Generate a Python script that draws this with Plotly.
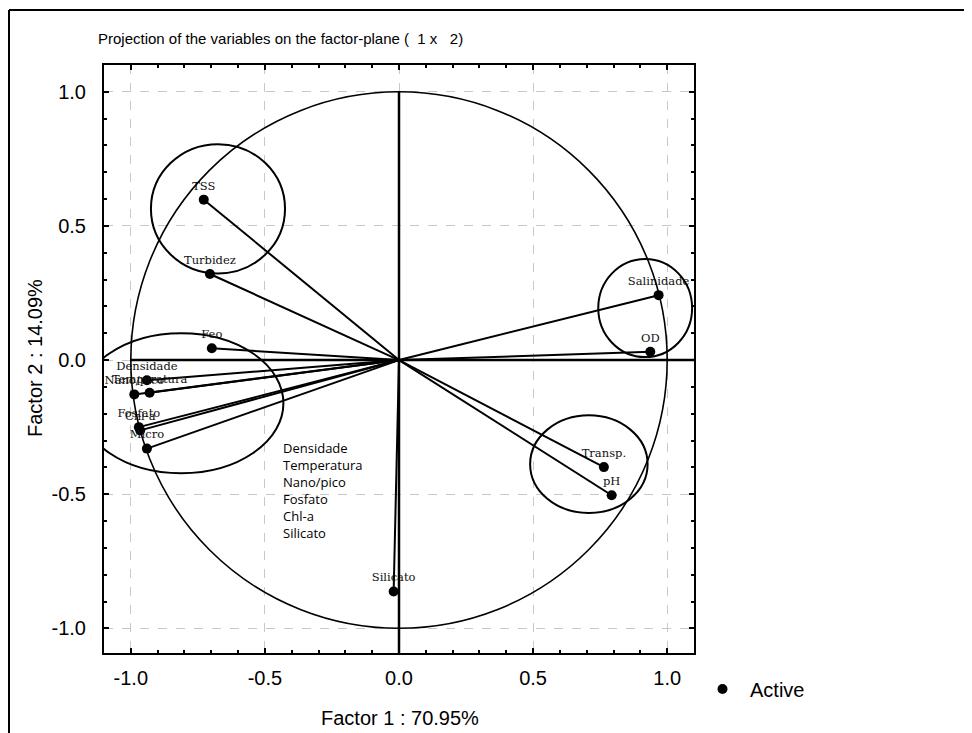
import plotly.graph_objects as go

# ---- data ----
variables = ["TSS", "Turbidez", "Feo", "Densidade", "Temperatura", "Nano/pico",
             "Fosfato", "Chl-a", "Micro", "Silicato", "Salinidade", "OD",
             "Transp.", "pH"]
factor1 = [-0.728, -0.705, -0.698, -0.940, -0.930, -0.987,
           -0.970, -0.965, -0.940, -0.020, 0.968, 0.937,
           0.764, 0.793]
factor2 = [0.598, 0.321, 0.044, -0.075, -0.122, -0.128,
           -0.250, -0.262, -0.330, -0.863, 0.242, 0.031,
           -0.399, -0.504]
tick_vals = [-1.0, -0.5, 0.0, 0.5, 1.0]
tick_text = ["-1.0", "-0.5", "0.0", "0.5", "1.0"]
# group ellipses: (centre x, centre y, radius x, radius y)
groups_cx = [-0.675, -0.812, 0.918, 0.708]
groups_cy = [0.564, -0.161, 0.194, -0.388]
groups_rx = [0.250, 0.381, 0.175, 0.219]
groups_ry = [0.241, 0.261, 0.183, 0.182]
group_list = ["Densidade", "Temperatura", "Nano/pico", "Fosfato", "Chl-a", "Silicato"]

OFF = 8  # page body margin
W, H = 972, 733
L, R, T, B = 104 - OFF, 694 - OFF, 65 - OFF, 653 - OFF

def px2paper_x(px):
    return (px - OFF - L) / (R - L)
def py2paper_y(py):
    return (B - (py - OFF)) / (B - T)

fig = go.Figure()

# vectors from origin
lx, ly = [], []
for x, y in zip(factor1, factor2):
    lx += [0, x, None]
    ly += [0, y, None]
fig.add_trace(go.Scatter(x=lx, y=ly, mode="lines", line=dict(color="black", width=2),
                         showlegend=False, hoverinfo="skip"))

fig.add_trace(go.Scatter(x=factor1, y=factor2, mode="markers+text", name="Active",
                         text=variables, textposition="top center",
                         textfont=dict(family="DejaVu Serif", size=11.5, color="#111"),
                         marker=dict(color="black", size=10)))

shapes = []
shapes.append(dict(type="circle", xref="x", yref="y", x0=-1, x1=1, y0=-1, y1=1,
                   line=dict(color="black", width=1.6)))
shapes.append(dict(type="line", xref="x", yref="y", x0=-1, x1=1.1, y0=0, y1=0,
                   line=dict(color="black", width=2.5)))
shapes.append(dict(type="line", xref="x", yref="y", x0=0, x1=0, y0=1, y1=-1.1,
                   line=dict(color="black", width=2.5)))
for cx, cy, rx, ry in zip(groups_cx, groups_cy, groups_rx, groups_ry):
    shapes.append(dict(type="circle", xref="x", yref="y", x0=cx - rx, x1=cx + rx,
                       y0=cy - ry, y1=cy + ry, line=dict(color="black", width=2)))

fx, fy = px2paper_x(9), py2paper_y(10)
shapes.append(dict(type="line", xref="paper", yref="paper", x0=fx, x1=fx,
                   y0=py2paper_y(760), y1=fy, line=dict(color="black", width=2)))
shapes.append(dict(type="line", xref="paper", yref="paper", x0=fx, x1=px2paper_x(1000),
                   y0=fy, y1=fy, line=dict(color="black", width=2)))

annotations = [
    dict(text="Projection of the variables on the factor-plane (  1 x   2)",
         xref="paper", yref="paper", x=px2paper_x(96), y=py2paper_y(38),
         xanchor="left", yanchor="middle", showarrow=False,
         font=dict(family="Liberation Sans", size=15, color="black")),
    dict(text="Factor 1 : 70.95%", xref="paper", yref="paper",
         x=px2paper_x(400), y=py2paper_y(718), xanchor="center", yanchor="middle",
         showarrow=False, font=dict(family="Liberation Sans", size=20, color="black")),
    dict(text="Factor 2 : 14.09%", xref="paper", yref="paper",
         x=px2paper_x(35), y=py2paper_y(358), xanchor="center", yanchor="middle",
         textangle=-90, showarrow=False,
         font=dict(family="Liberation Sans", size=20, color="black")),
    dict(text="<br>".join(group_list), xref="paper", yref="paper",
         x=px2paper_x(281), y=py2paper_y(437), xanchor="left", yanchor="top",
         align="left", showarrow=False,
         font=dict(family="Open Sans", size=13, color="black")),
]

axis_common = dict(
    tickvals=tick_vals, ticktext=tick_text,
    showgrid=True, gridcolor="#c8c8c8", griddash="dash", gridwidth=1,
    zeroline=False, showline=True, linecolor="black", linewidth=2,
    mirror="allticks", ticks="inside", ticklen=5, tickcolor="black", tickwidth=2,
    minor=dict(dtick=0.1, ticks="inside", ticklen=3, tickcolor="black", showgrid=False),
    tickfont=dict(family="Liberation Sans", size=20, color="black"),
)

fig.update_layout(
    width=W, height=H,
    margin=dict(l=L, r=W - R, t=T, b=H - B, pad=0),
    paper_bgcolor="white", plot_bgcolor="white",
    xaxis=dict(range=[-1.1, 1.1], ticklabelstandoff=6, **axis_common),
    yaxis=dict(range=[-1.092, 1.1], ticklabelstandoff=12, **axis_common),
    shapes=shapes, annotations=annotations,
    showlegend=True,
    legend=dict(x=px2paper_x(695), y=py2paper_y(689), xanchor="left", yanchor="middle",
                itemwidth=45,
                font=dict(family="Liberation Sans", size=20, color="black"),
                bgcolor="rgba(0,0,0,0)"),
)

fig.write_html("out.html")
